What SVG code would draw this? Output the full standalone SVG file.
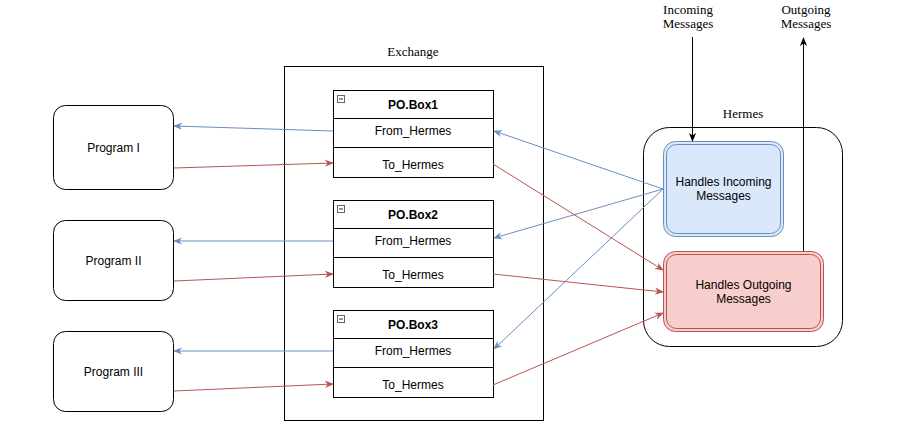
<svg xmlns="http://www.w3.org/2000/svg" width="900" height="429" viewBox="0 0 900 429">
<style>
.t{font-family:"Liberation Sans",Arial,sans-serif;font-size:12px;fill:#000;text-anchor:middle}
.b{font-weight:bold}
.s{font-family:"Liberation Serif","Times New Roman",serif;font-size:13px;fill:#000;text-anchor:middle}
.box{fill:#fff;stroke:#000;stroke-width:1}
.blue{fill:none;stroke:#6c8ebf;stroke-width:1}
.red{fill:none;stroke:#b85450;stroke-width:1}
.blk{fill:none;stroke:#000;stroke-width:1}
</style>
<defs>
<marker id="ab" viewBox="0 0 10 10" refX="9" refY="5" markerWidth="9" markerHeight="9" markerUnits="userSpaceOnUse" orient="auto"><path d="M0,1 L10,5 L0,9 L3,5 Z" fill="#6c8ebf"/></marker>
<marker id="ar" viewBox="0 0 10 10" refX="9" refY="5" markerWidth="9" markerHeight="9" markerUnits="userSpaceOnUse" orient="auto"><path d="M0,1 L10,5 L0,9 L3,5 Z" fill="#b85450"/></marker>
<marker id="ak" viewBox="0 0 10 10" refX="9" refY="5" markerWidth="9" markerHeight="9" markerUnits="userSpaceOnUse" orient="auto"><path d="M0,1 L10,5 L0,9 L3,5 Z" fill="#000"/></marker>
</defs>
<rect width="900" height="429" fill="#fff"/>

<g id="exchange">
<rect x="284.5" y="66.5" width="259" height="354" class="box"/>
<text x="413" y="56" class="s">Exchange</text>
</g>

<g id="pobox1">
<rect x="333.5" y="90.5" width="160" height="87" class="box"/>
<line x1="333.5" y1="118.5" x2="493.5" y2="118.5" class="blk"/>
<line x1="333.5" y1="147.5" x2="493.5" y2="147.5" class="blk"/>
<rect x="337.5" y="95.5" width="7" height="7" fill="#fff" stroke="#666"/>
<line x1="339" y1="99" x2="343" y2="99" stroke="#333"/>
<text x="413" y="109" class="t b">PO.Box1</text>
<text x="413" y="135" class="t">From_Hermes</text>
<text x="413" y="169" class="t">To_Hermes</text>
</g>
<g id="pobox2">
<rect x="333.5" y="200.5" width="160" height="87" class="box"/>
<line x1="333.5" y1="228.5" x2="493.5" y2="228.5" class="blk"/>
<line x1="333.5" y1="257.5" x2="493.5" y2="257.5" class="blk"/>
<rect x="337.5" y="205.5" width="7" height="7" fill="#fff" stroke="#666"/>
<line x1="339" y1="209" x2="343" y2="209" stroke="#333"/>
<text x="413" y="219" class="t b">PO.Box2</text>
<text x="413" y="245" class="t">From_Hermes</text>
<text x="413" y="279" class="t">To_Hermes</text>
</g>
<g id="pobox3">
<rect x="333.5" y="310.5" width="160" height="87" class="box"/>
<line x1="333.5" y1="338.5" x2="493.5" y2="338.5" class="blk"/>
<line x1="333.5" y1="367.5" x2="493.5" y2="367.5" class="blk"/>
<rect x="337.5" y="315.5" width="7" height="7" fill="#fff" stroke="#666"/>
<line x1="339" y1="319" x2="343" y2="319" stroke="#333"/>
<text x="413" y="329" class="t b">PO.Box3</text>
<text x="413" y="355" class="t">From_Hermes</text>
<text x="413" y="389" class="t">To_Hermes</text>
</g>

<g id="program1">
<rect x="53.5" y="105.5" width="120" height="84" rx="12" class="box"/>
<text x="113.5" y="152" class="t">Program I</text>
</g>
<g id="program2">
<rect x="53.5" y="220.5" width="120" height="80" rx="12" class="box"/>
<text x="113.5" y="265" class="t">Program II</text>
</g>
<g id="program3">
<rect x="53.5" y="331.5" width="120" height="80" rx="12" class="box"/>
<text x="113.5" y="376" class="t">Program III</text>
</g>

<g id="hermes">
<rect x="643.5" y="127.5" width="199" height="219" rx="26" class="box"/>
<text x="743" y="118" class="s">Hermes</text>
</g>
<g id="incoming">
<rect x="663.5" y="141.5" width="120" height="95" rx="12" fill="#dae8fc" stroke="#6c8ebf"/>
<rect x="666.5" y="144.5" width="114" height="89" rx="10" fill="none" stroke="#6c8ebf"/>
<text x="723.5" y="186" class="t">Handles Incoming</text>
<text x="723.5" y="200" class="t">Messages</text>
</g>
<g id="outgoing">
<rect x="663.5" y="251.5" width="160" height="80" rx="12" fill="#f8cecc" stroke="#b85450"/>
<rect x="666.5" y="254.5" width="154" height="74" rx="10" fill="none" stroke="#b85450"/>
<text x="743.5" y="289" class="t">Handles Outgoing</text>
<text x="743.5" y="303" class="t">Messages</text>
</g>
<g id="labels">
<text x="688" y="14" class="s">Incoming</text>
<text x="688" y="28" class="s">Messages</text>
<text x="806" y="14" class="s">Outgoing</text>
<text x="806" y="28" class="s">Messages</text>
</g>

<g id="connectors">
<path d="M333,131 L174,126" class="blue" marker-end="url(#ab)"/>
<path d="M174,168 L333,163" class="red" marker-end="url(#ar)"/>
<path d="M333,241 L174,241" class="blue" marker-end="url(#ab)"/>
<path d="M174,281 L333,274" class="red" marker-end="url(#ar)"/>
<path d="M333,351 L174,351" class="blue" marker-end="url(#ab)"/>
<path d="M174,391 L333,384" class="red" marker-end="url(#ar)"/>
<path d="M663,189 L494,131" class="blue" marker-end="url(#ab)"/>
<path d="M663,189 L494,238" class="blue" marker-end="url(#ab)"/>
<path d="M663,189 L494,349" class="blue" marker-end="url(#ab)"/>
<path d="M493,164 L663,270" class="red" marker-end="url(#ar)"/>
<path d="M493,274 L663,292" class="red" marker-end="url(#ar)"/>
<path d="M493,385 L663,313" class="red" marker-end="url(#ar)"/>
<path d="M692.5,37 L692.5,141" class="blk" marker-end="url(#ak)"/>
<path d="M803.5,251 L803.5,38" class="blk" marker-end="url(#ak)"/>
</g>
</svg>
